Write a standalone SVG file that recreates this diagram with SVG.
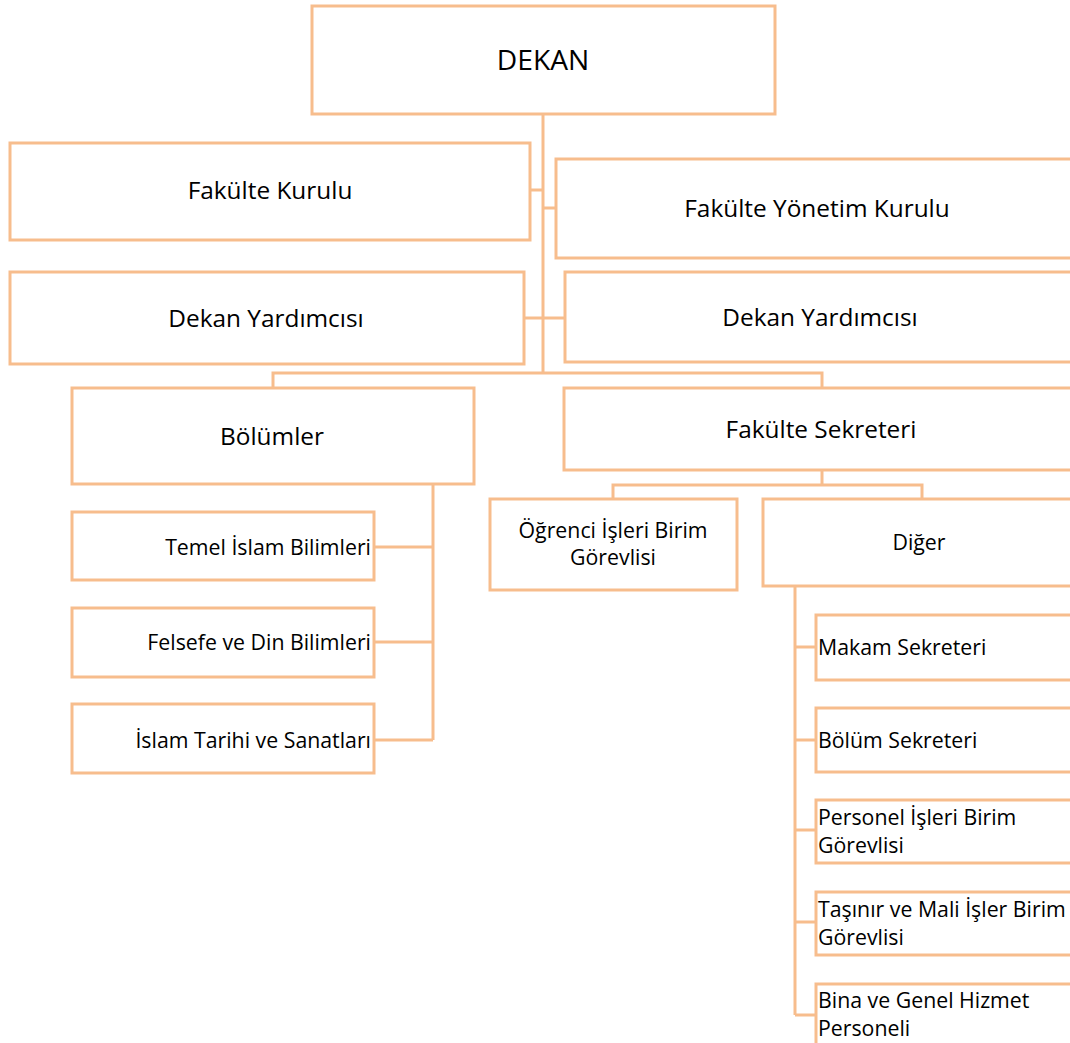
<svg xmlns="http://www.w3.org/2000/svg" width="1070" height="1043" viewBox="0 0 1070 1043">
<style>
.b{fill:#fff;stroke:#F7BD8D;stroke-width:3}
.c{fill:none;stroke:#F7BD8D;stroke-width:3}
text{font-family:"Open Sans","Noto Sans",sans-serif;fill:#000}
.L{font-size:24.4px;text-anchor:middle}
.S{font-size:21.3px}
.m{text-anchor:middle}
.r{text-anchor:end}
</style>
<rect width="1070" height="1043" fill="#fff"/>
<g id="connectors">
<path class="c" d="M543,114V373M530,190H543M543,208H556M524,318H565M273,388V373H822V388"/>
<path class="c" d="M822,470V485M613,499V485H922V499"/>
<path class="c" d="M433,484V740M374,547H433M374,642H433M374,740H433"/>
<path class="c" d="M795,586V1015M795,647H816M795,740H816M795,830H816M795,922H816M795,1015H816"/>
</g>
<g id="dekan"><rect class="b" x="312" y="6" width="463" height="108"/><text class="L" x="543" y="70" style="font-size:28.2px">DEKAN</text></g>
<g id="fakulte-kurulu"><rect class="b" x="10" y="143" width="520" height="97"/><text class="L" x="270" y="199">Fakülte Kurulu</text></g>
<g id="fakulte-yonetim-kurulu"><rect class="b" x="556" y="159" width="530" height="99"/><text class="L" x="817" y="217">Fakülte Yönetim Kurulu</text></g>
<g id="dekan-yardimcisi-1"><rect class="b" x="10" y="272" width="514" height="92"/><text class="L" x="266" y="327">Dekan Yardımcısı</text></g>
<g id="dekan-yardimcisi-2"><rect class="b" x="565" y="272" width="520" height="90"/><text class="L" x="820" y="326">Dekan Yardımcısı</text></g>
<g id="bolumler"><rect class="b" x="72" y="388" width="402" height="96"/><text class="L" x="272" y="445">Bölümler</text></g>
<g id="fakulte-sekreteri"><rect class="b" x="564" y="388" width="520" height="82"/><text class="L" x="821" y="438">Fakülte Sekreteri</text></g>
<g id="temel"><rect class="b" x="72" y="512" width="302" height="68"/><text class="S r" x="371" y="555">Temel İslam Bilimleri</text></g>
<g id="felsefe"><rect class="b" x="72" y="608" width="302" height="69"/><text class="S r" x="371" y="650">Felsefe ve Din Bilimleri</text></g>
<g id="islam-tarihi"><rect class="b" x="72" y="704" width="302" height="69"/><text class="S r" x="371" y="748">İslam Tarihi ve Sanatları</text></g>
<g id="ogrenci"><rect class="b" x="490" y="499" width="247" height="91"/><text class="S m" x="613" y="538">Öğrenci İşleri Birim</text><text class="S m" x="613" y="565">Görevlisi</text></g>
<g id="diger"><rect class="b" x="763" y="499" width="320" height="87"/><text class="S m" x="919" y="550">Diğer</text></g>
<g id="makam"><rect class="b" x="816" y="615" width="270" height="65"/><text class="S" x="818" y="655">Makam Sekreteri</text></g>
<g id="bolum-sekreteri"><rect class="b" x="816" y="708" width="270" height="64"/><text class="S" x="818" y="748">Bölüm Sekreteri</text></g>
<g id="personel"><rect class="b" x="816" y="800" width="270" height="63"/><text class="S" x="818" y="825">Personel İşleri Birim</text><text class="S" x="818" y="853">Görevlisi</text></g>
<g id="tasinir"><rect class="b" x="816" y="892" width="270" height="63"/><text class="S" x="818" y="917">Taşınır ve Mali İşler Birim</text><text class="S" x="818" y="945">Görevlisi</text></g>
<g id="bina"><rect class="b" x="816" y="984" width="270" height="80"/><text class="S" x="818" y="1008">Bina ve Genel Hizmet</text><text class="S" x="818" y="1036">Personeli</text></g>
</svg>
